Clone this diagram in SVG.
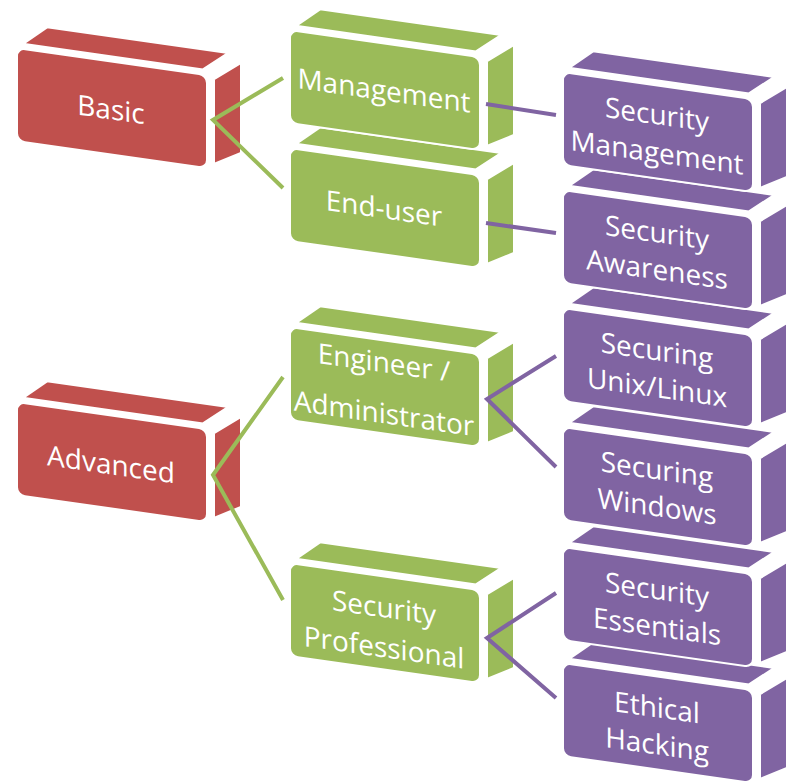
<svg xmlns="http://www.w3.org/2000/svg" xmlns:xlink="http://www.w3.org/1999/xlink" width="793" height="782" viewBox="0 0 793 782">
<style>
.t{font-family:"Open Sans","Liberation Sans",sans-serif;font-size:28px;fill:#ffffff;text-anchor:middle}
.red{fill:#C0504D}
.green{fill:#9BBB59}
.purple{fill:#8064A2}
.face{stroke:#ffffff;stroke-width:2}
.cg{stroke:#9BBB59;stroke-width:4;fill:none;stroke-linejoin:miter;stroke-linecap:butt}
.cp{stroke:#8064A2;stroke-width:4;fill:none;stroke-linejoin:miter;stroke-linecap:butt}
</style>
<defs>
<g id="box">
<polygon class="face" points="6,-5 186,-5 211,-25 30,-25"/>
<polygon class="face" points="197,3 224,-17 224,73 197,88"/>
<rect class="face" x="0" y="0" width="190" height="93" rx="8"/>
</g>
</defs>
<rect width="793" height="782" fill="#ffffff"/>

<g id="ethical-hacking" transform="translate(563,663) skewY(8.1)"><use xlink:href="#box" class="purple"/><text class="t" x="94" y="41">Ethical</text><text class="t" x="94" y="78">Hacking</text></g>
<g id="security-essentials" transform="translate(563,547) skewY(8.1)"><use xlink:href="#box" class="purple"/><text class="t" x="94" y="39">Security</text><text class="t" x="94" y="76">Essentials</text></g>
<g id="securing-windows" transform="translate(563,427) skewY(8.1)"><use xlink:href="#box" class="purple"/><text class="t" x="94" y="39">Securing</text><text class="t" x="94" y="76">Windows</text></g>
<g id="securing-unix" transform="translate(563,308) skewY(8.1)"><use xlink:href="#box" class="purple"/><text class="t" x="94" y="39">Securing</text><text class="t" x="94" y="76">Unix/Linux</text></g>
<g id="security-awareness" transform="translate(563,190) skewY(8.1)"><use xlink:href="#box" class="purple"/><text class="t" x="94" y="39">Security</text><text class="t" x="94" y="76">Awareness</text></g>
<g id="security-management" transform="translate(563,72) skewY(8.1)"><use xlink:href="#box" class="purple"/><text class="t" x="94" y="39">Security</text><text class="t" x="94" y="77">Management</text></g>

<g id="security-professional" transform="translate(290,563) skewY(8.1)"><use xlink:href="#box" class="green"/><text class="t" x="94" y="41">Security</text><text class="t" x="94" y="81">Professional</text></g>
<g id="engineer-administrator" transform="translate(290,327) skewY(8.1)"><use xlink:href="#box" class="green"/><text class="t" x="94" y="32">Engineer /</text><text class="t" x="94" y="83">Administrator</text></g>
<g id="end-user" transform="translate(290,148) skewY(8.1)"><use xlink:href="#box" class="green"/><text class="t" x="94" y="57">End-user</text></g>
<g id="management" transform="translate(290,30) skewY(8.1)"><use xlink:href="#box" class="green"/><text class="t" x="94" y="57">Management</text></g>

<g id="advanced" transform="translate(17,402) skewY(8.1)"><use xlink:href="#box" class="red"/><text class="t" x="94" y="59">Advanced</text></g>
<g id="basic" transform="translate(17,48) skewY(8.1)"><use xlink:href="#box" class="red"/><text class="t" x="94" y="58">Basic</text></g>

<g id="connectors">
<polyline class="cg" points="283,78 213,120 283,188"/>
<polyline class="cg" points="283,377 213,475 283,600"/>
<line class="cp" x1="486" y1="104" x2="556" y2="115"/>
<line class="cp" x1="486" y1="223" x2="556" y2="233"/>
<polyline class="cp" points="556,356 487,399 556,467"/>
<polyline class="cp" points="556,593 487,638 556,698"/>
</g>
</svg>
